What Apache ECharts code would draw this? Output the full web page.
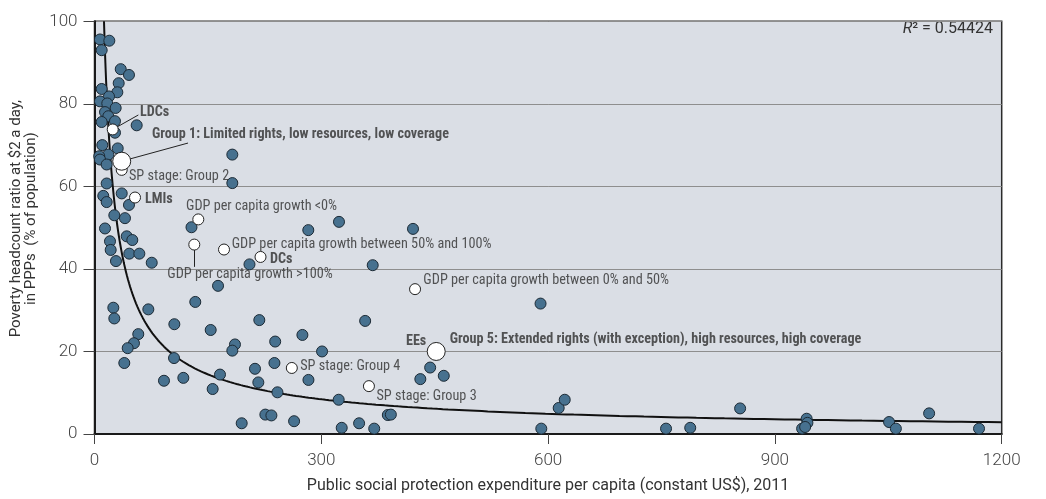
<!DOCTYPE html>
<html>
<head>
<meta charset="utf-8">
<script src="https://cdn.jsdelivr.net/npm/echarts@6/dist/echarts.min.js"></script>
<style>
  html, body { margin: 0; padding: 0; background: #ffffff; }
  #chart { width: 1046px; height: 499px; }
</style>
</head>
<body>
<div id="chart"></div>
<script>
// Public social protection expenditure per capita (US$) vs. poverty headcount (%), by country
const countryPoints = [
  [7.3, 95.6], [19.6, 95.3], [9.5, 93.0], [34.7, 88.4], [45.6, 87.0], [32.0, 85.0],
  [9.5, 83.6], [30.2, 82.8], [19.2, 81.8], [7.3, 80.6], [16.9, 80.1], [28.0, 79.0],
  [13.9, 78.0], [18.3, 77.0], [9.5, 75.6], [27.1, 75.8], [27.1, 73.0], [55.8, 74.8],
  [10.3, 70.0], [18.3, 67.7], [30.7, 69.2], [6.3, 67.3], [7.3, 66.5], [16.1, 65.3],
  [182.3, 67.7], [182.3, 60.8], [16.1, 60.7], [11.6, 57.7], [16.1, 56.2], [36.0, 58.3],
  [45.6, 55.5], [26.2, 53.0], [40.3, 52.3], [13.9, 49.8], [42.6, 47.9], [50.0, 47.0],
  [20.5, 46.7], [21.4, 44.6], [46.0, 43.7], [59.3, 43.7], [28.4, 41.9], [75.7, 41.5],
  [128.3, 50.1], [205.0, 41.1], [163.4, 35.9], [133.3, 32.0],
  [282.8, 49.4], [323.4, 51.4], [421.3, 49.7], [368.0, 40.9],
  [24.9, 30.6], [26.2, 28.0], [71.2, 30.2], [105.6, 26.6], [153.7, 25.2], [57.9, 24.2],
  [52.2, 22.0], [43.9, 20.8], [39.4, 17.2], [105.2, 18.4], [185.8, 21.7], [182.3, 20.2],
  [218.0, 27.6], [91.9, 12.9], [117.5, 13.6], [166.0, 14.4], [156.3, 10.9], [212.3, 15.8],
  [216.7, 12.5], [194.7, 2.6],
  [239, 22.4], [275, 24.0], [301, 20.0], [238, 17.2], [283, 13.1], [242, 10.1],
  [323, 8.3], [358, 27.4], [444, 16.1], [431, 13.3], [462, 14.1], [226, 4.7],
  [234, 4.5], [264, 3.1], [327, 1.5], [350, 2.6], [370, 1.3], [388, 4.6], [392, 4.7],
  [590, 31.6],
  [591, 1.3], [614, 6.3], [622, 8.3], [756, 1.3], [788, 1.5], [854, 6.2],
  [936, 1.3], [942, 3.7], [943, 2.7], [940, 1.7], [1051, 2.9], [1060, 1.3],
  [1104, 5.0], [1170, 1.3]
];

// Group averages (small open markers)
const groupAverages = [
  { name: 'LDCs', value: [24.1, 73.8] },
  { name: 'SP stage: Group 2', value: [36.0, 64.0] },
  { name: 'LMIs', value: [53.6, 57.3] },
  { name: 'GDP per capita growth <0%', value: [137.3, 52.0] },
  { name: 'GDP per capita growth >100%', value: [132.0, 45.9] },
  { name: 'GDP per capita growth between 50% and 100%', value: [171.3, 44.7] },
  { name: 'DCs', value: [219.6, 42.9] },
  { name: 'GDP per capita growth between 0% and 50%', value: [424.0, 35.1] },
  { name: 'SP stage: Group 4', value: [261, 16.0] },
  { name: 'SP stage: Group 3', value: [363, 11.6] }
];

// Extreme groups (large open markers)
const extremeGroups = [
  { name: 'Group 1', value: [36.0, 66.1] },
  { name: 'Group 5', value: [452, 20.0] }
];

// Annotation texts and where they sit, in axis units (left edge, middle)
const annotations = [
  { text: 'LDCs', at: [60.2, 77.8], bold: true },
  { text: 'Group 1: Limited rights, low resources, low coverage', at: [76.1, 72.6], bold: true },
  { text: 'SP stage: Group 2', at: [45.6, 62.4], bold: false },
  { text: 'LMIs', at: [66.8, 56.8], bold: true },
  { text: 'GDP per capita growth <0%', at: [121, 55.2], bold: false },
  { text: 'GDP per capita growth between 50% and 100%', at: [181.5, 45.9], bold: false },
  { text: 'DCs', at: [232.1, 42.2], bold: true },
  { text: 'GDP per capita growth >100%', at: [96.3, 38.6], bold: false },
  { text: 'GDP per capita growth between 0% and 50%', at: [435, 37.3], bold: false },
  { text: 'EEs', at: [412, 22.4], bold: true },
  { text: 'Group 5: Extended rights (with exception), high resources, high coverage', at: [470, 23.0], bold: true },
  { text: 'SP stage: Group 4', at: [272, 16.4], bold: false },
  { text: 'SP stage: Group 3', at: [373, 9.2], bold: false }
];

// Leader lines from markers to their labels
const leaders = [
  [[24.1, 73.8], [58, 77.3]],
  [[36.0, 66.1], [123.7, 70.5]],
  [[132.0, 45.9], [132.0, 40.5]]
];

const xTicks = { min: 0, max: 1200, interval: 300 };
const yTicks = { min: 0, max: 100, interval: 20 };
const rSquaredText = '0.54424';
// Power trend line y = a * x^b
const trendCoef = { a: 720, b: -0.78 };

const trendStart = Math.pow(yTicks.max / trendCoef.a, 1 / trendCoef.b);
const trendLine = [];
for (let i = 0; i <= 300; i++) {
  const x = trendStart * Math.pow(xTicks.max / trendStart, i / 300);
  trendLine.push([x, trendCoef.a * Math.pow(x, trendCoef.b)]);
}

// Pick the narrowest installed sans face for the annotations, and size it
const ctx = document.createElement('canvas').getContext('2d');
function textWidth(font, s) { ctx.font = font; return ctx.measureText(s).width; }
function installed(family) {
  const s = 'abcdefghijklmnopqrstuvwxyz ABCDEFGHIJ 0123456789';
  const mono = textWidth('40px monospace', s), serif = textWidth('40px serif', s);
  return textWidth(`40px '${family}', monospace`, s) !== mono ||
         textWidth(`40px '${family}', serif`, s) !== serif;
}
const candidates = ['Liberation Sans Narrow', 'DejaVu Sans Condensed', 'Roboto Condensed',
                    'Open Sans Condensed', 'Noto Sans', 'Roboto', 'Liberation Sans'];
const regularSample = 'GDP per capita growth between 0% and 50%';
const boldSample = 'Group 5: Extended rights (with exception), high resources, high coverage';
let narrowFamily = 'sans-serif', narrowW = Infinity;
candidates.forEach(f => {
  if (!installed(f)) return;
  const w = textWidth(`14px '${f}'`, regularSample);
  if (w < narrowW) { narrowW = w; narrowFamily = f; }
});
const narrow = `'${narrowFamily}', sans-serif`;
const regularSize = Math.max(11, Math.min(15, 14 * 246 / textWidth(`14px ${narrow}`, regularSample)));
const boldSize = Math.max(10.5, Math.min(15, 14 * 412 / textWidth(`bold 14px ${narrow}`, boldSample)));

const plain = "Roboto, 'Liberation Sans', Arial, sans-serif";

const chart = echarts.init(document.getElementById('chart'), null, { renderer: 'canvas' });
chart.setOption({
  animation: false,
  backgroundColor: '#ffffff',
  grid: {
    left: 94.5, right: 44.3, top: 21.3, bottom: 62.7,
    show: true, backgroundColor: '#dadee5', borderColor: '#2b2b2b', borderWidth: 1.5
  },
  xAxis: {
    type: 'value', min: xTicks.min, max: xTicks.max, interval: xTicks.interval,
    name: 'Public social protection expenditure per capita (constant US$), 2011',
    nameLocation: 'middle', nameGap: 52,
    nameTextStyle: { fontFamily: plain, fontSize: 16, color: '#333', verticalAlign: 'middle' },
    axisLine: { show: true, onZero: false, lineStyle: { color: '#1a1a1a', width: 2 } },
    axisTick: { show: true, inside: false, length: 10, lineStyle: { color: '#444', width: 1 } },
    axisLabel: { fontFamily: plain, fontWeight: 300, fontSize: 17, color: '#444', margin: 18,
                 formatter: v => String(v) },
    splitLine: { show: false }
  },
  yAxis: {
    type: 'value', min: yTicks.min, max: yTicks.max, interval: yTicks.interval,
    name: 'Poverty headcount ratio at $2 a day,\nin PPPs  (% of population)',
    nameLocation: 'middle', nameGap: 60,
    nameTextStyle: { fontFamily: plain, fontSize: 15, lineHeight: 15, color: '#333',
                     align: 'center', verticalAlign: 'middle', padding: [0, 0, 0, 18] },
    axisLine: { show: true, lineStyle: { color: '#1a1a1a', width: 2 } },
    axisTick: { show: true, inside: false, length: 11, lineStyle: { color: '#444', width: 1 } },
    axisLabel: { fontFamily: plain, fontWeight: 300, fontSize: 17, color: '#444', margin: 17,
                 formatter: v => String(v) },
    splitLine: { show: true, lineStyle: { color: '#8e8e8e', width: 1 } }
  },
  graphic: [{
    type: 'text', x: 993, y: 29, silent: true,
    style: {
      text: '{i|R}² = ' + rSquaredText,
      textAlign: 'right', textVerticalAlign: 'middle',
      font: '16px ' + plain, fill: '#333',
      rich: { i: { fontStyle: 'italic', fontFamily: plain, fontSize: 16, fill: '#333' } }
    }
  }],
  series: [
    {
      name: 'trend', type: 'line', data: trendLine, showSymbol: false, smooth: false,
      lineStyle: { color: '#111', width: 2 }, silent: true, z: 1
    },
    {
      name: 'countries', type: 'scatter', data: countryPoints, symbol: 'circle', symbolSize: 11,
      itemStyle: { color: '#47718f', borderColor: '#1c2a35', borderWidth: 1, opacity: 1 }, z: 2
    },
    {
      name: 'leaders', type: 'lines', coordinateSystem: 'cartesian2d', polyline: false,
      data: leaders.map(c => ({ coords: c })),
      lineStyle: { color: '#222', width: 1, opacity: 1 }, silent: true, z: 3
    },
    {
      name: 'group averages', type: 'scatter', data: groupAverages, symbol: 'circle', symbolSize: 11,
      itemStyle: { color: '#ffffff', borderColor: '#222', borderWidth: 1, opacity: 1 }, z: 4
    },
    {
      name: 'extreme groups', type: 'scatter', data: extremeGroups, symbol: 'circle', symbolSize: 18,
      itemStyle: { color: '#ffffff', borderColor: '#222', borderWidth: 1, opacity: 1 }, z: 5
    },
    {
      name: 'annotations', type: 'scatter', symbolSize: 0, silent: true, z: 6,
      data: annotations.map(a => ({
        value: a.at, name: a.text,
        label: {
          fontWeight: a.bold ? 'bold' : 'normal',
          fontSize: a.bold ? boldSize : regularSize
        }
      })),
      label: {
        show: true, position: 'right', distance: 0, formatter: p => p.name,
        fontFamily: narrow, color: '#2e2e2e'
      }
    }
  ]
});
</script>
</body>
</html>
